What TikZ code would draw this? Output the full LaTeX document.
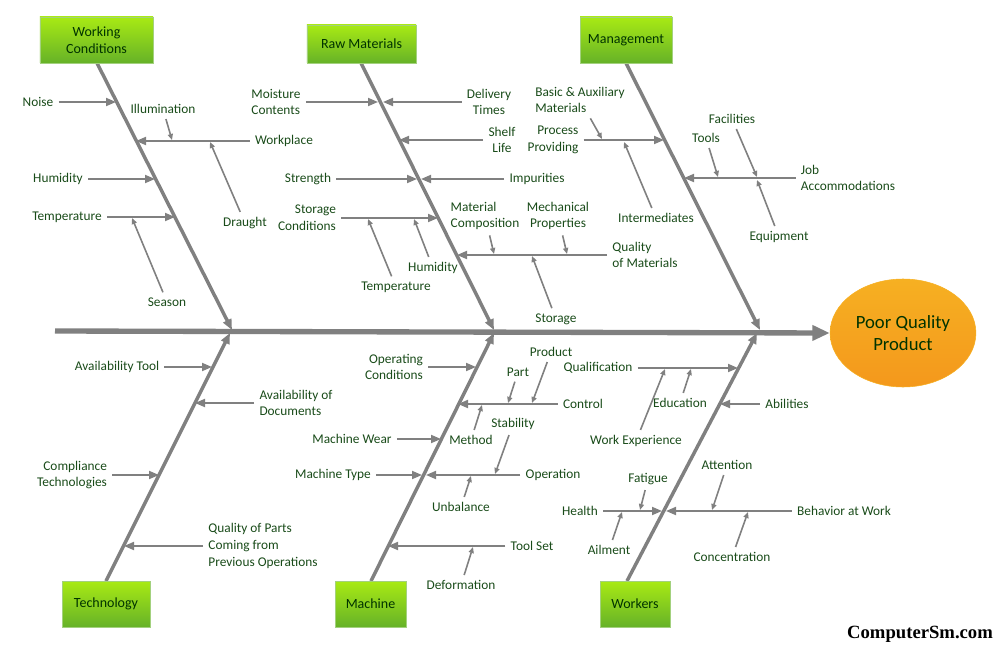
\documentclass[tikz,border=0pt]{standalone}
\usepackage{fontspec}
\setmainfont{Carlito}
\newfontfamily\markfont{Liberation Serif}
\usetikzlibrary{arrows.meta,shapes.geometric}
\definecolor{bonegray}{RGB}{128,128,128}
\definecolor{labelgreen}{RGB}{25,75,25}
\definecolor{limetop}{RGB}{168,234,20}
\definecolor{limebot}{RGB}{102,178,40}
\definecolor{orangetop}{RGB}{246,176,34}
\definecolor{orangebot}{RGB}{244,152,28}
\begin{document}
\begin{tikzpicture}[x=0.75pt,y=-0.75pt]
\tikzstyle{cat}=[draw=limebot!60!white,top color=limetop,bottom color=limebot,text=black!80!green,font=\fontsize{10.5}{12.5}\selectfont,align=center,inner sep=0pt,minimum height=34.5pt]
\tikzstyle{cause}=[text=labelgreen,font=\fontsize{10}{12.5}\selectfont,inner sep=0pt,outer sep=4pt]
\tikzstyle{spine}=[draw=bonegray,line width=4pt,-{Triangle[length=13pt,width=11pt]}]
\tikzstyle{bone}=[draw=bonegray,line width=2.6pt,-{Triangle[length=8pt,width=6.5pt]}]
\tikzstyle{sub}=[draw=bonegray,line width=1.4pt,-{Triangle[length=7.5pt,width=6pt]}]
\tikzstyle{twig}=[draw=bonegray,line width=1.2pt,-{Triangle[length=4.5pt,width=3.8pt]}]
\useasboundingbox (0,0) rectangle (994,645);
% effect and spine
\node[ellipse,draw=orangetop,top color=orangetop,bottom color=orangebot,minimum width=106pt,minimum height=81pt,align=center,font=\fontsize{14}{16}\selectfont,text=black!80!green] (effect) at (903,333) {Poor Quality\\Product};
\coordinate (tail) at (55,331);
\draw[spine] (tail) -- (effect.west);
% main bones
\coordinate (wcend) at (232,330);
\coordinate (rmend) at (494,330);
\coordinate (mgend) at (760,330);
\coordinate (teend) at (230,333);
\coordinate (maend) at (494,333);
\coordinate (woend) at (757,333);
\draw[bone] (97,63) -- (wcend);
\draw[bone] (361,63) -- (rmend);
\draw[bone] (626,63) -- (mgend);
\draw[bone] (106,581) -- (teend);
\draw[bone] (371,581) -- (maend);
\draw[bone] (627,581) -- (woend);
% categories
\node[cat,minimum width=85pt] (wc) at (96.5,40) {Working\\Conditions};
\node[cat,minimum width=82pt,minimum height=28.5pt] (rm) at (361.5,44) {Raw Materials};
\node[cat,minimum width=69pt] (mg) at (626,40) {Management};
\node[cat,minimum width=66pt] (te) at (106,604) {Technology};
\node[cat,minimum width=53pt] (ma) at (370.5,604) {Machine};
\node[cat,minimum width=52.5pt] (wo) at (635,604) {Workers};
% working conditions
\node[cause] (noise) at (38,102) {Noise};
\node[cause] (illum) at (163,109) {Illumination};
\node[cause] (workplace) at (284,141) {Workplace};
\node[cause] (draught) at (245,223) {Draught};
\node[cause] (humidA) at (58,179) {Humidity};
\node[cause] (tempA) at (67,217) {Temperature};
\node[cause] (season) at (167,302) {Season};
\coordinate (noiseE) at (116,102);
\coordinate (workplaceE) at (136,141);
\coordinate (illumE) at (172,140);
\coordinate (draughtE) at (210,142);
\coordinate (humidAE) at (155,179);
\coordinate (tempAE) at (175,217);
\coordinate (seasonE) at (132,218);
\draw[sub] (noise) -- (noiseE);
\draw[sub] (workplace) -- (workplaceE);
\draw[twig] (illum) -- (illumE);
\draw[twig] (draught) -- (draughtE);
\draw[sub] (humidA) -- (humidAE);
\draw[sub] (tempA) -- (tempAE);
\draw[twig] (season) -- (seasonE);
% raw materials
\node[cause,align=left] (moist) at (276,102) {Moisture\\Contents};
\node[cause,align=center] (deliv) at (489,102) {Delivery\\Times};
\node[cause,align=center] (shelf) at (502,140) {Shelf\\Life};
\node[cause] (strength) at (308,179) {Strength};
\node[cause] (impur) at (537,179) {Impurities};
\node[cause,align=right] (storcond) at (307,218) {Storage\\Conditions};
\node[cause] (tempB) at (396,287) {Temperature};
\node[cause] (humidB) at (433,268) {Humidity};
\node[cause,align=left] (qualmat) at (645,255) {Quality\\of Materials};
\node[cause,align=left] (matcomp) at (485,216) {Material\\Composition};
\node[cause,align=center] (mech) at (558,216) {Mechanical\\Properties};
\node[cause] (storage) at (556,319) {Storage};
\coordinate (moistE) at (378,102);
\coordinate (delivE) at (383,102);
\coordinate (shelfE) at (399,140);
\coordinate (strengthE) at (417,179);
\coordinate (impurE) at (421,179);
\coordinate (storcondE) at (438,218);
\coordinate (tempBE) at (368,219);
\coordinate (humidBE) at (414,219);
\coordinate (qualmatE) at (457,255);
\coordinate (matcompE) at (494,254);
\coordinate (mechE) at (567,254);
\coordinate (storageE) at (532,256);
\draw[sub] (moist) -- (moistE);
\draw[sub] (deliv) -- (delivE);
\draw[sub] (shelf) -- (shelfE);
\draw[sub] (strength) -- (strengthE);
\draw[sub] (impur) -- (impurE);
\draw[sub] (storcond) -- (storcondE);
\draw[twig] (tempB) -- (tempBE);
\draw[twig] (humidB) -- (humidBE);
\draw[sub] (qualmat) -- (qualmatE);
\draw[twig] (matcomp) -- (matcompE);
\draw[twig] (mech) -- (mechE);
\draw[twig] (storage) -- (storageE);
% management
\node[cause,align=left] (basic) at (580,100) {Basic \& Auxiliary\\Materials};
\node[cause,align=right] (process) at (553,140) {Process\\Providing};
\node[cause] (interm) at (656,218) {Intermediates};
\node[cause] (facil) at (732,119) {Facilities};
\node[cause] (tools) at (706,138) {Tools};
\node[cause,align=left] (job) at (848,178) {Job\\Accommodations};
\node[cause] (equip) at (779,237) {Equipment};
\coordinate (basicE) at (602,139);
\coordinate (processE) at (664,140);
\coordinate (intermE) at (624,142);
\coordinate (facilE) at (757,177);
\coordinate (toolsE) at (718,177);
\coordinate (jobE) at (684,178);
\coordinate (equipE) at (757,180);
\draw[twig] (basic) -- (basicE);
\draw[sub] (process) -- (processE);
\draw[twig] (interm) -- (intermE);
\draw[twig] (facil) -- (facilE);
\draw[twig] (tools) -- (toolsE);
\draw[sub] (job) -- (jobE);
\draw[twig] (equip) -- (equipE);
% technology
\node[cause] (avtool) at (117,367) {Availability Tool};
\node[cause,align=left] (avdoc) at (296,403) {Availability of\\Documents};
\node[cause,align=right] (compl) at (72,475) {Compliance\\Technologies};
\node[cause,align=left] (qparts) at (263,546) {Quality of Parts\\Coming from\\Previous Operations};
\coordinate (avtoolE) at (212,367);
\coordinate (avdocE) at (195,403);
\coordinate (complE) at (159,475);
\coordinate (qpartsE) at (124,546);
\draw[sub] (avtool) -- (avtoolE);
\draw[sub] (avdoc) -- (avdocE);
\draw[sub] (compl) -- (complE);
\draw[sub] (qparts) -- (qpartsE);
% machine
\node[cause,align=right] (opcond) at (394,367) {Operating\\Conditions};
\node[cause] (control) at (583,404) {Control};
\node[cause] (product) at (551,352) {Product};
\node[cause] (part) at (518,372) {Part};
\node[cause] (method) at (471,440) {Method};
\node[cause] (mwear) at (352,439) {Machine Wear};
\node[cause] (stab) at (513,424) {Stability};
\node[cause] (mtype) at (333,475) {Machine Type};
\node[cause] (oper) at (553,475) {Operation};
\node[cause] (unbal) at (461,507) {Unbalance};
\node[cause] (toolset) at (532,546) {Tool Set};
\node[cause] (deform) at (461,585) {Deformation};
\coordinate (opcondE) at (476,367);
\coordinate (controlE) at (458,404);
\coordinate (productE) at (532,403);
\coordinate (partE) at (508,403);
\coordinate (methodE) at (482,405);
\coordinate (mwearE) at (441,439);
\coordinate (stabE) at (495,474);
\coordinate (mtypeE) at (422,475);
\coordinate (operE) at (426,475);
\coordinate (unbalE) at (471,476);
\coordinate (toolsetE) at (388,546);
\coordinate (deformE) at (473,547);
\draw[sub] (opcond) -- (opcondE);
\draw[sub] (control) -- (controlE);
\draw[twig] (product) -- (productE);
\draw[twig] (part) -- (partE);
\draw[twig] (method) -- (methodE);
\draw[sub] (mwear) -- (mwearE);
\draw[twig] (stab) -- (stabE);
\draw[sub] (mtype) -- (mtypeE);
\draw[sub] (oper) -- (operE);
\draw[twig] (unbal) -- (unbalE);
\draw[sub] (toolset) -- (toolsetE);
\draw[twig] (deform) -- (deformE);
% workers
\node[cause] (qualif) at (598,368) {Qualification};
\node[cause] (educ) at (680,403) {Education};
\node[cause] (workexp) at (636,441) {Work Experience};
\node[cause] (abil) at (787,404) {Abilities};
\node[cause] (atten) at (727,465) {Attention};
\node[cause] (fatigue) at (648,479) {Fatigue};
\node[cause] (health) at (580,511) {Health};
\node[cause] (behav) at (844,511) {Behavior at Work};
\node[cause] (ailment) at (609,550) {Ailment};
\node[cause] (concen) at (732,557) {Concentration};
\coordinate (qualifE) at (738,368);
\coordinate (educE) at (691,369);
\coordinate (workexpE) at (665,369);
\coordinate (abilE) at (720,404);
\coordinate (attenE) at (712,510);
\coordinate (fatigueE) at (640,510);
\coordinate (healthE) at (662,511);
\coordinate (behavE) at (666,511);
\coordinate (ailmentE) at (622,512);
\coordinate (concenE) at (748,512);
\draw[sub] (qualif) -- (qualifE);
\draw[twig] (educ) -- (educE);
\draw[twig] (workexp) -- (workexpE);
\draw[sub] (abil) -- (abilE);
\draw[twig] (atten) -- (attenE);
\draw[twig] (fatigue) -- (fatigueE);
\draw[sub] (health) -- (healthE);
\draw[sub] (behav) -- (behavE);
\draw[twig] (ailment) -- (ailmentE);
\draw[twig] (concen) -- (concenE);
% watermark
\node[font=\markfont\bfseries\fontsize{14}{16}\selectfont,inner sep=0pt] (mark) at (920,634) {ComputerSm.com};
\end{tikzpicture}
\end{document}
